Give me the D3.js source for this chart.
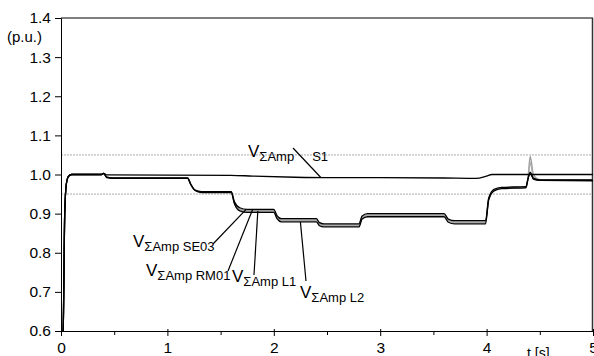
<!DOCTYPE html>
<html>
<head>
<meta charset="utf-8">
<script src="https://cdn.jsdelivr.net/npm/d3@7"></script>
<style>
  body { margin: 0; background: #fff; }
  text { font-family: "Liberation Sans", Arial, sans-serif; fill: #000; }
</style>
</head>
<body>
<div id="chart"></div>
<script>
// time axis of the lower group of curves [s]
const tGroup = [0, 0.02, 0.035, 0.05, 0.07, 0.1, 0.38, 0.4, 0.43, 0.48, 1.19, 1.22, 1.26, 1.32,
  1.6, 1.63, 1.68, 1.75, 2.0, 2.03, 2.07, 2.4, 2.43, 2.47, 2.8, 2.83, 2.88,
  3.6, 3.64, 3.7, 3.99, 4.02, 4.07, 4.14, 4.37, 4.39, 4.41, 4.44, 4.5, 5.0];

const vSE03 = [0.55, 0.6, 0.9, 0.975, 0.995, 1.0, 1.0, 1.003, 0.993, 0.991, 0.991, 0.975, 0.96, 0.956,
  0.956, 0.93, 0.915, 0.911, 0.911, 0.895, 0.887, 0.887, 0.877, 0.874, 0.874, 0.894, 0.9,
  0.9, 0.886, 0.882, 0.882, 0.94, 0.962, 0.967, 0.969, 0.99, 1.006, 0.99, 0.986, 0.986];
const vRM01 = [0.55, 0.6, 0.9, 0.975, 0.995, 1.0, 1.0, 1.003, 0.993, 0.991, 0.991, 0.975, 0.96, 0.955,
  0.955, 0.928, 0.912, 0.908, 0.908, 0.892, 0.884, 0.884, 0.874, 0.871, 0.871, 0.891, 0.897,
  0.897, 0.883, 0.879, 0.879, 0.938, 0.961, 0.966, 0.968, 0.995, 1.046, 1.0, 0.987, 0.986];
const vL1 = [0.55, 0.6, 0.9, 0.975, 0.995, 1.0, 1.0, 1.003, 0.993, 0.991, 0.991, 0.975, 0.96, 0.955,
  0.955, 0.927, 0.91, 0.906, 0.906, 0.89, 0.882, 0.882, 0.872, 0.869, 0.869, 0.889, 0.895,
  0.895, 0.881, 0.877, 0.877, 0.937, 0.96, 0.965, 0.967, 0.99, 1.03, 0.995, 0.986, 0.985];
const vL2 = [0.55, 0.6, 0.9, 0.975, 0.995, 1.0, 1.0, 1.003, 0.992, 0.99, 0.99, 0.974, 0.959, 0.954,
  0.954, 0.925, 0.907, 0.903, 0.903, 0.887, 0.879, 0.879, 0.869, 0.866, 0.866, 0.886, 0.892,
  0.892, 0.878, 0.874, 0.874, 0.935, 0.958, 0.964, 0.966, 0.99, 1.004, 0.988, 0.985, 0.984];

// upper curve
const tS1 = [0, 0.02, 0.035, 0.05, 0.07, 0.1, 0.38, 0.4, 0.43, 1.6, 1.8, 2.2, 2.5, 3.0, 3.6, 3.9, 4.0, 4.05, 5.0];
const vS1 = [0.55, 0.6, 0.9, 0.975, 0.995, 1.0, 1.0, 1.003, 0.999, 0.998, 0.996, 0.993, 0.992, 0.992, 0.991, 0.99, 0.996, 1.0, 1.0];

const xTicks = [0, 1, 2, 3, 4, 5];
const xMinor = [0.5, 1.5, 2.5, 3.5, 4.5];
const yTicks = [0.6, 0.7, 0.8, 0.9, 1.0, 1.1, 1.2, 1.3, 1.4];
const limits = [0.95, 1.05];

const series = [
  { name: 'RM01', t: tGroup, v: vRM01, color: '#999' },
  { name: 'L1', t: tGroup, v: vL1, color: '#aaa' },
  { name: 'SE03', t: tGroup, v: vSE03, color: '#000' },
  { name: 'L2', t: tGroup, v: vL2, color: '#000' },
  { name: 'S1', t: tS1, v: vS1, color: '#000' }
];

// labels: subscript parts, text x, baseline y, leader start (px), leader end (data)
const labels = [
  { sub: ['ΣAmp', 'S1'], gap: 18, x: 248, y: 157, from: [293, 148], to: [2.44, 0.993] },
  { sub: ['ΣAmp SE03'], x: 133, y: 247, from: [213, 244], to: [1.74, 0.911] },
  { sub: ['ΣAmp RM01'], x: 146, y: 276, from: [228, 271], to: [1.8, 0.91] },
  { sub: ['ΣAmp L1'], x: 232, y: 282, from: [254, 275], to: [1.85, 0.907] },
  { sub: ['ΣAmp L2'], x: 300, y: 298, from: [306, 281], to: [2.25, 0.879] }
];

const W = 594, H = 356;
const x0 = 61, x1 = 593, y0 = 18, y1 = 331;

const svg = d3.select('#chart').append('svg')
  .attr('width', W).attr('height', H);

const x = d3.scaleLinear().domain([0, 5]).range([x0, x1]);
const y = d3.scaleLinear().domain([0.6, 1.4]).range([y1, y0]);

svg.append('clipPath').attr('id', 'clip')
  .append('rect').attr('x', x0).attr('y', y0).attr('width', x1 - x0).attr('height', y1 - y0);

// dotted limit lines
svg.selectAll('.lim').data(limits).enter().append('line')
  .attr('x1', x0).attr('x2', x1)
  .attr('y1', d => y(d)).attr('y2', d => y(d))
  .attr('stroke', '#aaa').attr('stroke-width', 1).attr('stroke-dasharray', '2,1');

// frame
svg.append('line').attr('x1', x0).attr('x2', x1).attr('y1', y0).attr('y2', y0).attr('stroke', '#000');
svg.append('line').attr('x1', x1 - 0.5).attr('x2', x1 - 0.5).attr('y1', y0).attr('y2', y1).attr('stroke', '#333').attr('stroke-width', 1.5);

// axes
const yAxis = d3.axisLeft(y).tickValues(yTicks).tickSize(6).tickFormat(d3.format('.1f'));
const gy = svg.append('g').attr('transform', `translate(${x0},0)`).call(yAxis);
gy.selectAll('text').attr('font-size', 15.5).attr('dx', -1).style('font-family', '"Liberation Sans", Arial, sans-serif');

const xAxis = d3.axisBottom(x).tickValues(xTicks).tickSize(5).tickFormat(d3.format('d'));
const gx = svg.append('g').attr('transform', `translate(0,${y1})`).call(xAxis);
gx.selectAll('text').attr('font-size', 15.5).attr('dy', '0.9em').style('font-family', '"Liberation Sans", Arial, sans-serif');
gx.selectAll('line').attr('y1', -2);
svg.append('g').attr('transform', `translate(0,${y1})`)
  .call(d3.axisBottom(x).tickValues(xMinor).tickSize(4).tickFormat(''))
  .select('.domain').remove();

svg.selectAll('.domain').attr('stroke', '#000');

// axis titles
svg.append('text').attr('x', 7).attr('y', 42).attr('font-size', 15).text('(p.u.)');
svg.append('text').attr('x', 527).attr('y', 358).attr('font-size', 14).text('t [s]');

// curves
const plot = svg.append('g').attr('clip-path', 'url(#clip)');
series.forEach(s => {
  const pts = s.t.map((t, i) => [t, s.v[i]]);
  plot.append('path')
    .datum(pts)
    .attr('fill', 'none')
    .attr('stroke', s.color)
    .attr('stroke-width', 1.3)
    .attr('d', d3.line().x(d => x(d[0])).y(d => y(d[1])).curve(d3.curveMonotoneX));
});

// labels with leaders
labels.forEach(l => {
  svg.append('line')
    .attr('x1', l.from[0]).attr('y1', l.from[1])
    .attr('x2', x(l.to[0])).attr('y2', y(l.to[1]))
    .attr('stroke', '#000').attr('stroke-width', 1.2);
  const t = svg.append('text').attr('x', l.x).attr('y', l.y).attr('font-size', 17).text('V');
  t.append('tspan').attr('dy', 4).attr('font-size', 13).text(l.sub[0]);
  if (l.sub.length > 1) {
    t.append('tspan').attr('dx', l.gap).attr('font-size', 13).text(l.sub[1]);
  }
});
</script>
</body>
</html>
